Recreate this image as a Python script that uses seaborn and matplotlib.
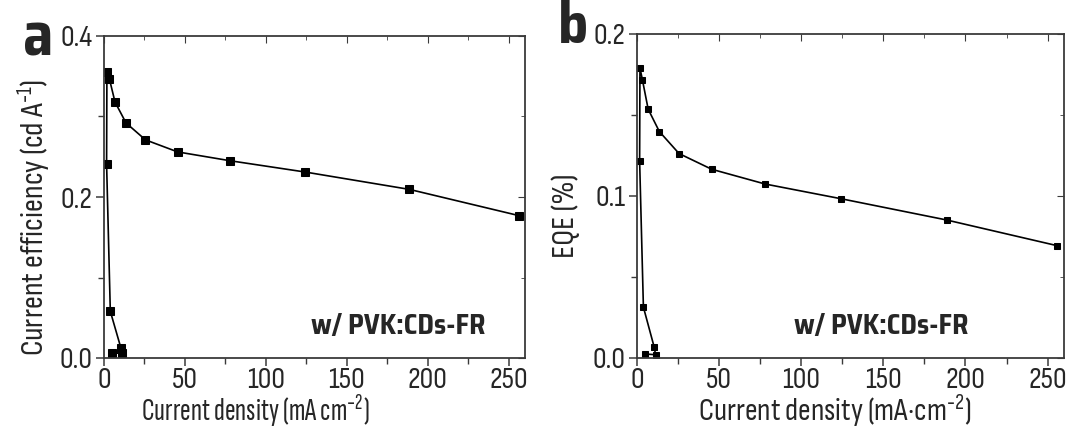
import matplotlib
matplotlib.use("Agg")
import matplotlib.pyplot as plt
from matplotlib import font_manager as fm
from matplotlib.ticker import MultipleLocator, FormatStrFormatter
import seaborn as sns
import pandas as pd

# Current density (mA cm^-2), in measurement order
current_density = [5.0, 11.3, 10.5, 3.9, 1.6, 1.8, 3.3, 6.8, 13.6, 25.6, 45.5, 78.0, 124.3, 188.5, 256.0]
# Current efficiency (cd A^-1)
current_eff = [0.006, 0.006, 0.012, 0.058, 0.241, 0.355, 0.347, 0.318, 0.292, 0.271, 0.256, 0.245, 0.231, 0.2095, 0.177]
# External quantum efficiency (%)
eqe = [0.0025, 0.002, 0.0066, 0.0314, 0.1216, 0.179, 0.1717, 0.1536, 0.1398, 0.1262, 0.1165, 0.1074, 0.0983, 0.0852, 0.0693]

device_label = "w/ PVK:CDs-FR"

sns.set_style("ticks")

installed = {}
for f in fm.fontManager.ttflist:
    w = f.weight if isinstance(f.weight, int) else 400
    installed.setdefault(f.name, set()).add(w)


def pick(cands, bold=False):
    for c in cands:
        if c in installed and (not bold or max(installed[c]) >= 600):
            return c
    return "DejaVu Sans"


body_font = pick(["Sofia Sans Condensed", "Sofia Sans Semi Condensed", "Liberation Sans Narrow", "Lato"])
narrow_font = pick(["Sofia Sans Extra Condensed", "Sofia Sans Condensed", "Liberation Sans Narrow"])
bold_font = pick(["Sofia Sans Condensed", "Sofia Sans Semi Condensed", "Saira SemiCondensed", "Liberation Sans Narrow", "Lato"], bold=True)

plt.rcParams["font.family"] = [body_font, "DejaVu Sans"]
plt.rcParams["mathtext.default"] = "regular"
plt.rcParams["axes.unicode_minus"] = False

df = pd.DataFrame({"j": current_density, "ce": current_eff, "eqe": eqe})

fig = plt.figure(figsize=(10.75, 4.3), dpi=100)
ax_a = fig.add_axes([104 / 1075, 72 / 430, 421 / 1075, 322 / 430])
ax_b = fig.add_axes([637 / 1075, 72 / 430, 427 / 1075, 324 / 430])

spine_col = "#3a3a3a"
tick_fs = 22
ylabel_fs = 23


def style_axes(ax, ymax, ymajor, yminor):
    ax.set_xlim(0, 260)
    ax.set_ylim(0, ymax)
    ax.xaxis.set_major_locator(MultipleLocator(50))
    ax.xaxis.set_minor_locator(MultipleLocator(25))
    ax.yaxis.set_major_locator(MultipleLocator(ymajor))
    ax.yaxis.set_minor_locator(MultipleLocator(yminor))
    ax.yaxis.set_major_formatter(FormatStrFormatter("%.1f"))
    for s in ax.spines.values():
        s.set_visible(True)
        s.set_color(spine_col)
        s.set_linewidth(1.3)
    ax.tick_params(which="major", direction="out", length=6, width=1.1, color=spine_col,
                   labelsize=tick_fs)
    ax.tick_params(axis="x", which="major", pad=0.5)
    ax.tick_params(axis="y", which="major", pad=2)
    ax.tick_params(which="minor", direction="out", length=4, width=1.0, color=spine_col)
    # mirrored ticks pointing inward on the top and right edges
    top = ax.secondary_xaxis("top")
    top.xaxis.set_major_locator(MultipleLocator(50))
    top.xaxis.set_minor_locator(MultipleLocator(25))
    top.tick_params(which="both", direction="in", labeltop=False, color=spine_col)
    top.tick_params(which="major", length=5)
    top.tick_params(which="minor", length=3)
    top.spines["top"].set_visible(False)
    right = ax.secondary_yaxis("right")
    right.yaxis.set_major_locator(MultipleLocator(ymajor))
    right.yaxis.set_minor_locator(MultipleLocator(yminor))
    right.tick_params(which="both", direction="in", labelright=False, color=spine_col)
    right.tick_params(which="major", length=5)
    right.tick_params(which="minor", length=3)
    right.spines["right"].set_visible(False)


sns.lineplot(data=df, x="j", y="ce", ax=ax_a, sort=False, estimator=None, color="black",
             linewidth=1.2, marker="s", markersize=6.2, markeredgecolor="black")
sns.lineplot(data=df, x="j", y="eqe", ax=ax_b, sort=False, estimator=None, color="black",
             linewidth=1.2, marker="s", markersize=4.8, markeredgecolor="black")

style_axes(ax_a, 0.4, 0.2, 0.1)
style_axes(ax_b, 0.2, 0.1, 0.05)

sup_m2 = r"$^{\text{-}2}$"
sup_m1 = r"$^{\text{-}1}$"

ax_a.set_xlabel("Current density (mA cm" + sup_m2 + ")", fontsize=23,
                family=[narrow_font, "DejaVu Sans"])
ax_a.xaxis.set_label_coords(0.36, -0.106)
ax_a.set_ylabel("Current efficiency (cd A" + sup_m1 + ")", fontsize=ylabel_fs)
ax_a.yaxis.set_label_coords(-0.123, 0.438)

ax_b.set_xlabel("Current density (mA\u00b7cm" + sup_m2 + ")", fontsize=22.5)
ax_b.xaxis.set_label_coords(0.4637, -0.106)
ax_b.set_ylabel("EQE (%)", fontsize=ylabel_fs)
ax_b.yaxis.set_label_coords(-0.133, 0.44)

for xc in (398 / 1075, 881 / 1075):
    fig.text(xc, (430 - 326) / 430, device_label, ha="center", va="center",
             fontsize=20, fontweight="bold", family=[bold_font, "DejaVu Sans"])

fig.text(38 / 1075, (430 - 55) / 430, "a", ha="center", va="baseline",
         fontsize=44, fontweight="bold", family=[bold_font, "DejaVu Sans"])
fig.text(573 / 1075, (430 - 43) / 430, "b", ha="center", va="baseline",
         fontsize=42, fontweight="bold", family=[bold_font, "DejaVu Sans"])

fig.savefig("out.png", dpi=100, facecolor="white")
